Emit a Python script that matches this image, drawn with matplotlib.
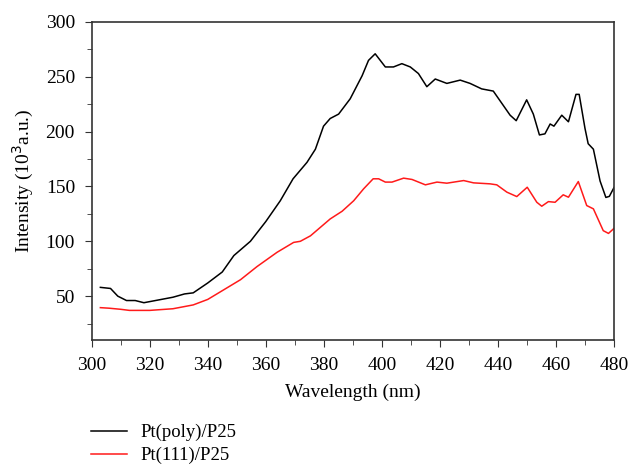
import matplotlib
matplotlib.use("Agg")
import matplotlib.pyplot as plt
from matplotlib.ticker import MultipleLocator

plt.rcParams['font.family'] = ['Liberation Serif', 'DejaVu Serif']

# Pt(poly)/P25 spectrum
wl_poly = [303, 306.5, 309, 312, 315, 318, 320, 324, 328, 332, 335, 340, 345, 349,
           354.7, 360, 365, 369.4, 374.2, 377.1, 379.9, 382.2, 385.1, 389.1, 393.2,
           395.4, 397.7, 401.2, 404, 406.9, 409.8, 412.6, 415.5, 418.4, 422.4, 427,
           430.4, 434.4, 438.4, 441.3, 444.2, 446.3, 449.9, 452.2, 454.3, 456.2, 458,
           459.3, 462, 464.3, 466.9, 468, 470, 471.1, 472.9, 475.2, 477.2, 478.4, 480]
int_poly = [58, 57, 50, 46, 46, 44, 45, 47, 49, 52, 53, 62, 72, 87,
            100, 118, 137, 157, 172, 184, 205, 212, 216, 230, 251,
            265, 271, 259, 259, 262, 259, 253, 241, 248, 244, 247,
            244, 239, 237, 226, 215, 210, 229, 216, 197, 198, 207,
            205, 215, 209, 234, 234, 203, 189, 184, 155, 140, 141, 149]

# Pt(111)/P25 spectrum
wl_111 = [303, 306, 310, 313, 320, 328, 335, 340, 344.4, 351.3, 357, 363.9, 369.6,
          371.9, 375.4, 378.8, 382.2, 386.3, 390.3, 393.7, 397, 398.9, 401.2, 403.5,
          407.5, 410.4, 415, 419, 422.4, 428.2, 431.6, 437.3, 439.6, 443.1, 446.5,
          450.1, 453.4, 455.1, 457.4, 459.7, 462.5, 464.3, 467.7, 470.6, 472.9,
          476.3, 478.1, 480]
int_111 = [39.5, 39, 38, 37, 37, 38.5, 42, 47, 54, 65, 77, 90, 99,
           100, 105, 112.7, 120.4, 127.4, 137, 147.8, 157, 157, 154, 154,
           157.6, 156.4, 151.5, 154, 153, 155.4, 153.3, 152.4, 151.5, 144.8, 140.8,
           149.3, 135.6, 132, 136.2, 135.6, 142.4, 140.2, 154.5, 132.6, 129.6,
           109.7, 107.2, 111.8]

fig = plt.figure(figsize=(6.3, 4.7), dpi=100)
ax = fig.add_axes([0.1455, 0.2766, 0.8291, 0.6766])

ax.plot(wl_poly, int_poly, color='black', linewidth=1.1, label='Pt(poly)/P25')
ax.plot(wl_111, int_111, color='#ff1a1a', linewidth=1.1, label='Pt(111)/P25')

ax.set_xlim(300, 480)
ax.set_ylim(10, 300)
ax.xaxis.set_major_locator(MultipleLocator(20))
ax.xaxis.set_minor_locator(MultipleLocator(10))
ax.yaxis.set_minor_locator(MultipleLocator(25))
ax.set_yticks([50, 100, 150, 200, 250, 300])
ax.tick_params(which='both', direction='out', top=False, right=False,
               labelsize=14, color='#333333', pad=7)
ax.tick_params(which='major', length=5)
ax.tick_params(which='minor', length=3.5)
for s in ax.spines.values():
    s.set_color('#333333')
    s.set_linewidth(1.2)

ax.set_xlabel('Wavelength (nm)', fontsize=14)
ax.set_ylabel(r'Intensity (10$^3$a.u.)', fontsize=14)
ax.xaxis.set_label_coords(0.5, -0.136)
ax.yaxis.set_label_coords(-0.106, 0.5)

fig.legend(loc='upper left', bbox_to_anchor=(0.145, 0.098), frameon=False,
           fontsize=13.5, handlelength=1.9, handletextpad=0.7, labelspacing=0.3,
           borderaxespad=0, borderpad=0)

fig.savefig('out.png', dpi=100)
